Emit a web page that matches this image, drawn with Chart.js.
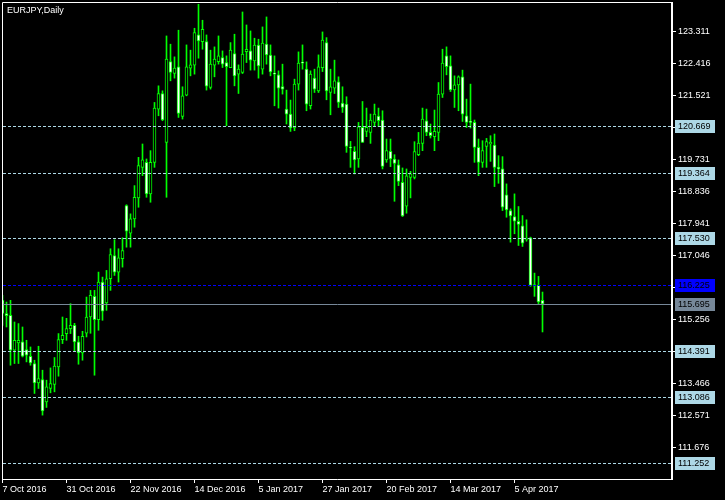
<!DOCTYPE html>
<html>
<head>
<meta charset="utf-8">
<script src="https://cdn.jsdelivr.net/npm/chart.js@4/dist/chart.umd.min.js"></script>
<style>
html, body { margin: 0; padding: 0; background: #000; }
#wrap { width: 725px; height: 500px; }
</style>
</head>
<body>
<div id="wrap"><canvas id="chart"></canvas></div>
<script>
// EURJPY daily, 7 Oct 2016 .. mid Apr 2017 (bar index 0..135)
const opens = [
  115.798,115.427,115.379,114.403,114.607,114.635,114.423,114.236,114.032,113.491,
  113.586,112.961,113.334,113.446,113.937,114.702,114.869,115.008,115.100,114.635,
  114.328,114.877,115.332,115.910,115.260,116.309,115.723,116.403,117.053,116.588,
  116.961,118.448,117.676,118.077,118.663,119.517,119.657,118.775,119.657,121.146,
  121.582,120.215,122.474,122.140,122.327,120.940,121.537,122.290,122.374,123.219,
  123.032,123.032,121.749,122.374,122.474,122.586,122.447,122.307,122.698,122.123,
  122.168,122.753,122.773,122.494,122.932,122.262,122.960,122.653,122.151,122.103,
  121.777,121.146,121.007,120.616,121.844,122.440,122.262,121.238,122.011,121.657,
  122.307,123.005,121.610,121.732,121.908,121.314,121.286,120.075,119.963,119.751,
  120.633,120.521,120.494,120.773,120.951,120.840,119.724,119.963,119.751,119.584,
  119.099,118.429,119.238,119.238,119.871,120.187,120.820,120.494,120.374,120.494,
  121.565,122.633,122.354,121.685,121.824,122.048,120.959,120.784,120.773,120.075,
  119.657,120.103,120.170,120.142,119.517,119.472,118.747,118.309,118.142,118.010,
  117.882,117.500,117.547,116.236,116.216,115.798
];
const highs = [
  115.937,115.751,115.798,115.193,115.148,115.053,114.682,114.495,114.124,114.515,
  113.845,113.566,113.909,114.199,114.869,115.332,115.296,115.706,115.156,114.794,
  114.933,115.890,116.077,116.077,116.588,116.448,116.635,117.240,117.492,117.240,
  117.547,118.470,118.217,119.006,119.796,120.170,119.751,119.983,121.331,121.796,
  121.657,123.191,122.960,122.606,123.351,121.769,122.940,122.793,123.406,124.076,
  123.630,123.219,122.793,122.885,123.191,122.773,122.633,123.005,123.239,122.382,
  123.861,123.498,123.331,123.127,123.099,123.443,123.722,122.940,122.633,122.215,
  122.402,121.677,121.398,121.983,122.745,122.940,122.466,122.215,122.262,122.661,
  123.303,123.144,122.262,122.514,122.048,121.769,121.490,120.242,120.095,120.773,
  121.358,121.174,121.007,121.286,121.174,121.099,120.309,120.309,119.871,119.724,
  119.500,119.472,119.405,120.234,120.494,121.174,121.146,120.728,121.119,121.889,
  122.820,122.885,122.633,122.075,122.075,122.235,121.425,121.844,120.840,120.309,
  120.262,120.326,120.401,120.449,119.843,119.816,119.054,118.356,118.775,118.421,
  118.169,118.050,117.565,116.560,116.468,116.030
];
const lows = [
  115.100,115.053,113.984,114.032,114.032,114.216,114.077,113.984,113.195,113.334,
  112.589,112.804,113.212,113.240,113.678,114.590,114.682,114.869,114.383,114.012,
  114.124,114.774,114.877,113.705,114.961,115.240,115.519,116.077,116.495,116.309,
  116.727,117.285,117.285,117.843,118.401,119.285,118.680,118.541,119.517,120.959,
  120.820,118.680,121.936,122.011,120.912,120.867,121.517,122.075,122.123,122.569,
  122.820,121.677,121.704,122.048,122.402,122.307,120.680,122.307,121.796,121.582,
  122.140,122.447,122.235,122.235,122.011,122.123,122.402,122.075,121.238,121.174,
  121.565,120.728,120.521,120.541,121.677,122.262,121.099,121.146,121.610,121.610,
  122.195,121.406,120.987,121.582,121.191,121.052,119.936,119.517,119.333,119.517,
  120.215,120.374,120.187,120.680,120.653,119.472,119.657,119.537,118.568,119.006,
  118.142,118.234,118.663,119.193,119.843,119.983,120.401,120.337,119.983,120.262,
  121.470,122.103,121.637,121.191,121.099,120.800,120.633,120.616,119.657,119.285,
  119.517,119.517,119.684,118.979,119.071,118.309,118.122,117.425,117.659,117.332,
  117.305,117.452,116.189,115.910,115.706,114.914
];
const closes = [
  115.435,115.371,114.403,114.682,114.682,114.236,114.263,114.049,113.491,113.613,
  112.709,113.379,113.474,113.957,114.702,114.821,115.008,115.100,114.635,114.328,
  114.794,115.332,115.937,115.260,116.309,115.499,116.403,117.081,116.588,116.989,
  117.193,117.731,118.077,118.680,119.564,119.724,118.775,119.657,121.174,121.582,
  120.840,122.541,122.168,122.290,121.024,121.517,122.327,122.382,123.284,123.052,
  123.378,121.788,122.402,122.541,122.633,122.402,122.335,122.793,122.075,122.262,
  122.681,122.820,122.514,122.932,122.354,122.988,122.661,122.187,122.123,121.732,
  121.704,121.007,120.616,121.844,122.430,122.430,121.286,122.123,121.704,122.327,
  123.072,121.657,121.769,121.936,121.331,121.191,120.103,120.058,119.724,120.653,
  120.215,120.633,120.840,121.007,120.820,119.545,119.983,119.751,119.629,119.126,
  118.161,119.277,119.333,119.955,120.198,120.867,120.494,120.401,120.521,121.565,
  122.430,122.335,121.685,121.824,122.048,121.007,120.773,120.773,120.075,119.657,
  119.983,120.234,120.215,119.517,119.472,118.401,118.329,118.161,118.010,117.918,
  117.397,117.530,116.216,116.197,115.751,115.695
];

const dateTicks = [0, 16, 32, 48, 64, 80, 96, 112, 128];
const dateLabels = ['7 Oct 2016', '31 Oct 2016', '22 Nov 2016', '14 Dec 2016', '5 Jan 2017',
                    '27 Jan 2017', '20 Feb 2017', '14 Mar 2017', '5 Apr 2017'];
const priceTicks = [123.311, 122.416, 121.521, 120.626, 119.731, 118.836, 117.941,
                    117.046, 116.151, 115.256, 114.361, 113.466, 112.571, 111.676];
const levels = [120.669, 119.364, 117.530, 114.391, 113.086, 111.252];
const blueLevel = 116.225;
const bidLevel = 115.695;

const FONT = '9px "Liberation Sans", Arial, sans-serif';
const GREEN = '#00ff00';

const wickData = highs.map((h, i) => ({ x: i, y: [lows[i], h] }));
const bodyData = opens.map((o, i) => ({ x: i, y: [o, closes[i]] }));
const bodyFill = opens.map((o, i) => closes[i] < o ? '#ffffff' : '#000000');

const overlay = {
  id: 'overlay',
  beforeDraw(chart) {
    const c = chart.ctx;
    c.save();
    c.fillStyle = '#000';
    c.fillRect(0, 0, chart.width, chart.height);
    c.restore();
  },
  afterDatasetsDraw(chart) {
    const c = chart.ctx;
    const a = chart.chartArea;
    const y = chart.scales.y;
    c.save();
    function hline(v, color, dash) {
      const py = Math.round(y.getPixelForValue(v)) + 0.5;
      c.strokeStyle = color;
      c.lineWidth = 1;
      c.setLineDash(dash);
      c.beginPath();
      c.moveTo(a.left, py);
      c.lineTo(a.right, py);
      c.stroke();
    }
    levels.forEach(v => hline(v, '#add8e6', [3, 2]));
    hline(blueLevel, '#0000ff', [3, 2]);
    hline(bidLevel, '#778899', []);
    c.setLineDash([]);

    // frame
    c.strokeStyle = '#ffffff';
    c.lineWidth = 1;
    c.beginPath();
    c.moveTo(2.5, a.bottom + 0.5);
    c.lineTo(2.5, 2.5);
    c.lineTo(a.right, 2.5);
    c.moveTo(2.5, a.bottom + 0.5);
    c.lineTo(a.right, a.bottom + 0.5);
    c.stroke();
    c.lineWidth = 2;
    c.beginPath();
    c.moveTo(a.right, 2);
    c.lineTo(a.right, a.bottom + 1);
    c.stroke();

    // price label boxes
    function box(v, bg, fg) {
      const py = Math.round(y.getPixelForValue(v));
      c.fillStyle = bg;
      c.fillRect(a.right + 3, py - 6, 40, 13);
      c.fillStyle = fg;
      c.font = FONT;
      c.textBaseline = 'middle';
      c.textAlign = 'left';
      c.fillText(v.toFixed(3), a.right + 6, py + 1);
    }
    levels.forEach(v => box(v, '#add8e6', '#000000'));
    box(blueLevel, '#0000ff', '#000000');
    box(bidLevel, '#778899', '#000000');

    // title
    c.fillStyle = '#ffffff';
    c.font = FONT;
    c.textBaseline = 'alphabetic';
    c.fillText('EURJPY,Daily', 7, 13);
    c.restore();
  }
};

new Chart(document.getElementById('chart'), {
  type: 'bar',
  data: {
    datasets: [
      {
        data: bodyData,
        backgroundColor: bodyFill,
        borderColor: GREEN,
        borderWidth: 1,
        borderSkipped: false,
        barThickness: 3,
        minBarLength: 1,
        grouped: false,
        order: 0
      },
      {
        data: wickData,
        backgroundColor: GREEN,
        borderWidth: 0,
        barThickness: 1,
        grouped: false,
        order: 1
      }
    ]
  },
  options: {
    responsive: true,
    maintainAspectRatio: false,
    animation: false,
    layout: { padding: { left: 3, top: 3, right: 0, bottom: 0 } },
    plugins: { legend: { display: false }, tooltip: { enabled: false } },
    scales: {
      x: {
        type: 'linear',
        min: 0.125,
        max: 167.375,
        offset: false,
        afterBuildTicks: s => { s.ticks = dateTicks.map(v => ({ value: v })); },
        afterFit: s => { s.height = 21; s.paddingLeft = 0; s.paddingRight = 0; },
        grid: { offset: false, drawOnChartArea: false, color: '#ffffff', tickLength: 4 },
        border: { display: false },
        ticks: {
          color: '#ffffff',
          font: { family: '"Liberation Sans", Arial, sans-serif', size: 9 },
          padding: 1,
          align: 'start',
          maxRotation: 0,
          autoSkip: false,
          callback: v => dateLabels[dateTicks.indexOf(v)]
        }
      },
      y: {
        position: 'right',
        min: 110.803,
        max: 124.112,
        afterBuildTicks: s => { s.ticks = priceTicks.map(v => ({ value: v })); },
        afterFit: s => { s.width = 53; s.paddingTop = 0; s.paddingBottom = 0; },
        grid: { drawOnChartArea: false, color: '#ffffff', tickLength: 4 },
        border: { display: false },
        ticks: {
          color: '#ffffff',
          font: { family: '"Liberation Sans", Arial, sans-serif', size: 9 },
          padding: 2,
          autoSkip: false,
          callback: v => v.toFixed(3)
        }
      }
    }
  },
  plugins: [overlay]
});
</script>
</body>
</html>
